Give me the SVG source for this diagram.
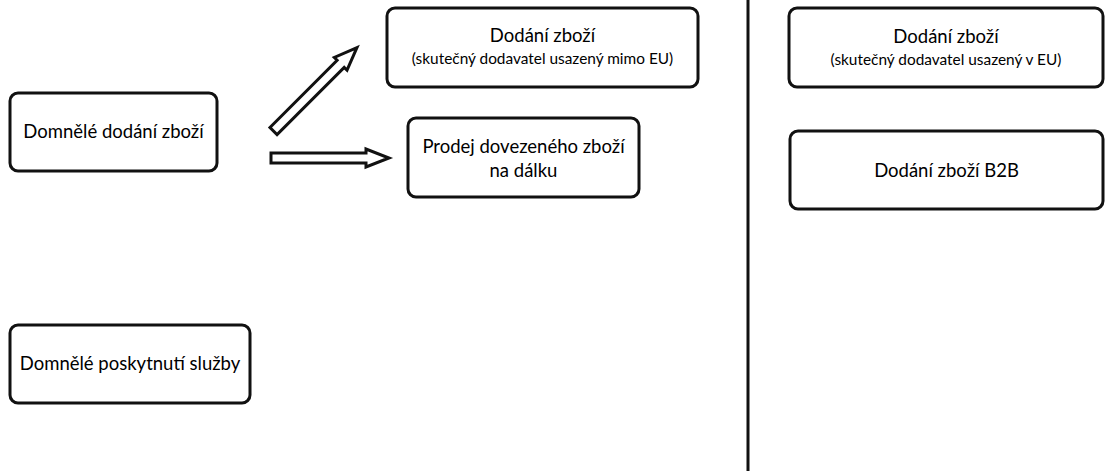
<svg xmlns="http://www.w3.org/2000/svg" width="1109" height="471" viewBox="0 0 1109 471">
<style>
  .box { fill: #ffffff; stroke: #111111; stroke-width: 3; }
  .t { font-family: Lato, "Open Sans", sans-serif; fill: #000000; text-anchor: middle; }
  .big { font-size: 18.5px; }
  .small { font-size: 15.4px; }
  .arrow { fill: #ffffff; stroke: #111111; stroke-width: 3; stroke-linejoin: miter; }
  .divider { stroke: #111111; stroke-width: 3; }
</style>
<rect width="1109" height="471" fill="#ffffff"/>
<defs>
  <path id="blockArrow" d="M0,-5 H95 V-9 L118,0 L95,9 V5 H0 Z"/>
</defs>
<line class="divider" x1="748" y1="0" x2="748" y2="471"/>
<g id="connectors">
  <use href="#blockArrow" class="arrow" transform="translate(273.5,131) rotate(-45)"/>
  <use href="#blockArrow" class="arrow" transform="translate(271,158)"/>
</g>
<g id="n1">
  <rect class="box" x="10" y="93" width="207" height="78" rx="8"/>
  <text class="t big" x="113.5" y="137.5">Domnělé dodání zboží</text>
</g>
<g id="n2">
  <rect class="box" x="387" y="8" width="311" height="79" rx="8"/>
  <text class="t big" x="542.5" y="42">Dodání zboží</text>
  <text class="t small" x="542.5" y="63.5">(skutečný dodavatel usazený mimo EU)</text>
</g>
<g id="n3">
  <rect class="box" x="408" y="118" width="231" height="79" rx="8"/>
  <text class="t big" x="523.5" y="153">Prodej dovezeného zboží</text>
  <text class="t big" x="523.5" y="177">na dálku</text>
</g>
<g id="n4">
  <rect class="box" x="10" y="325" width="240" height="78" rx="8"/>
  <text class="t big" x="130" y="370">Domnělé poskytnutí služby</text>
</g>
<g id="n5">
  <rect class="box" x="789" y="8" width="314" height="79" rx="8"/>
  <text class="t big" x="946" y="42.5">Dodání zboží</text>
  <text class="t small" x="946" y="64.5">(skutečný dodavatel usazený v EU)</text>
</g>
<g id="n6">
  <rect class="box" x="790" y="131" width="313" height="78" rx="8"/>
  <text class="t big" x="946.5" y="176.5">Dodání zboží B2B</text>
</g>
</svg>
